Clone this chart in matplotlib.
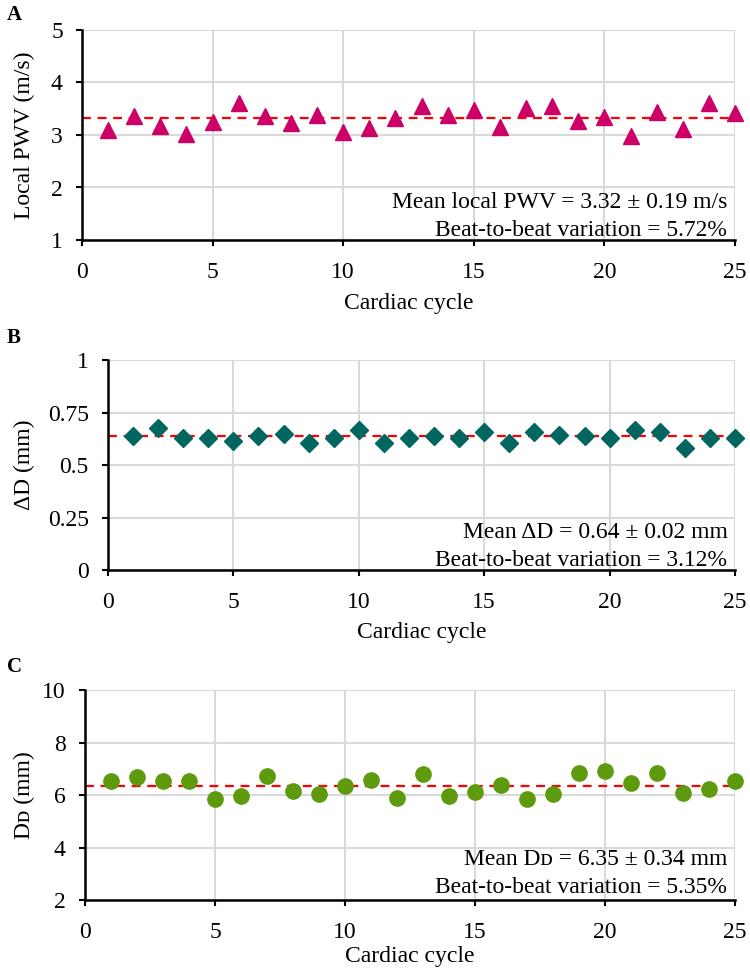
import numpy as np
import matplotlib.pyplot as plt

plt.rcParams['font.family'] = ['Liberation Serif', 'DejaVu Serif']

cycles = np.arange(1, 26)

pwv = [3.10, 3.37, 3.18, 3.02, 3.25, 3.61, 3.37, 3.22, 3.38, 3.05,
       3.13, 3.32, 3.55, 3.38, 3.48, 3.16, 3.52, 3.55, 3.27, 3.35,
       2.98, 3.43, 3.12, 3.60, 3.42]
pwv_mean = 3.32

dist = [0.640, 0.675, 0.627, 0.627, 0.614, 0.640, 0.646, 0.603, 0.630, 0.667,
        0.606, 0.627, 0.640, 0.627, 0.655, 0.606, 0.655, 0.643, 0.640, 0.627,
        0.667, 0.655, 0.580, 0.630, 0.627]
dist_mean = 0.64

diam = [6.55, 6.68, 6.55, 6.55, 5.86, 5.95, 6.74, 6.17, 6.02, 6.34,
        6.57, 5.89, 6.81, 5.95, 6.12, 6.37, 5.86, 6.04, 6.85, 6.91,
        6.46, 6.82, 6.08, 6.21, 6.55]
diam_mean = 6.35

panels = [
    dict(letter='A', y=pwv, mean=pwv_mean, marker='^', ms=12, color='#CC0066',
         ylim=(1, 5), yticks=[1, 2, 3, 4, 5], yticklabels=['1', '2', '3', '4', '5'],
         ylabel='Local PWV (m/s)',
         text=['Mean local PWV = 3.32 ± 0.19 m/s', 'Beat-to-beat variation = 5.72%'],
         rect=[82, 30, 735, 240], ylab_x=35, letter_y=15, xlab_off=53,
         text_y=(32, 3.5)),
    dict(letter='B', y=dist, mean=dist_mean, marker='D', ms=9.5, color='#00665F',
         ylim=(0, 1), yticks=[0, 0.25, 0.5, 0.75, 1],
         yticklabels=['0', '0.25', '0.5', '0.75', '1'],
         ylabel='ΔD (mm)',
         text=['Mean ΔD = 0.64 ± 0.02 mm', 'Beat-to-beat variation = 3.12%'],
         rect=[108, 360, 735, 570], ylab_x=35, letter_y=338, xlab_off=52,
         text_y=(32, 3.5)),
    dict(letter='C', y=diam, mean=diam_mean, marker='o', ms=11, color='#5E9A0E',
         ylim=(2, 10), yticks=[2, 4, 6, 8, 10], yticklabels=['2', '4', '6', '8', '10'],
         ylabel='Dᴅ (mm)',
         text=['Mean Dᴅ = 6.35 ± 0.34 mm', 'Beat-to-beat variation = 5.35%'],
         rect=[85, 690, 735, 900], ylab_x=35, letter_y=667, xlab_off=46,
         text_y=(35, 7)),
]

W, H = 750, 971
fig = plt.figure(figsize=(7.5, 9.71), dpi=100)

for p in panels:
    x0, y0, x1, y1 = p['rect']
    aw, ah = x1 - x0, y1 - y0
    ax = fig.add_axes([x0 / W, 1 - y1 / H, aw / W, ah / H])
    ax.set_xlim(0, 25)
    ax.set_ylim(*p['ylim'])
    ax.set_xticks([0, 5, 10, 15, 20, 25])
    ax.set_yticks(p['yticks'])
    ax.set_yticklabels(p['yticklabels'])
    ax.grid(True, color='#D9D9D9', lw=1.5)
    ax.set_axisbelow(True)
    for s in ['top', 'right']:
        ax.spines[s].set_visible(False)
    for s in ['left', 'bottom']:
        ax.spines[s].set_linewidth(1.8)
        ax.spines[s].set_zorder(5)
    ax.tick_params(axis='both', direction='out', length=4.3, width=1.5,
                   labelsize=17)
    ax.tick_params(axis='x', pad=11.5)
    ax.tick_params(axis='y', pad=9.5)

    ax.axhline(p['mean'], color='#FF0000', ls=(0, (4, 3)), lw=1.6, zorder=3)
    ax.plot(cycles, p['y'], ls='none', marker=p['marker'], ms=p['ms'],
            color=p['color'], mec=p['color'], zorder=4, clip_on=False)

    ax.set_ylabel(p['ylabel'], fontsize=17)
    ax.yaxis.set_label_coords((p['ylab_x'] - x0) / aw, 0.5)
    ax.set_xlabel('Cardiac cycle', fontsize=17)
    ax.xaxis.set_label_coords(0.5, -p['xlab_off'] / ah)

    ax.text(0.988, p['text_y'][0] / ah, p['text'][0], transform=ax.transAxes,
            ha='right', va='baseline', fontsize=17)
    ax.text(0.988, p['text_y'][1] / ah, p['text'][1], transform=ax.transAxes,
            ha='right', va='baseline', fontsize=17)

    fig.text(7 / W, 1 - p['letter_y'] / H, p['letter'], fontsize=15,
             fontweight='bold', ha='left', va='center')

fig.savefig('out.png', dpi=100)
